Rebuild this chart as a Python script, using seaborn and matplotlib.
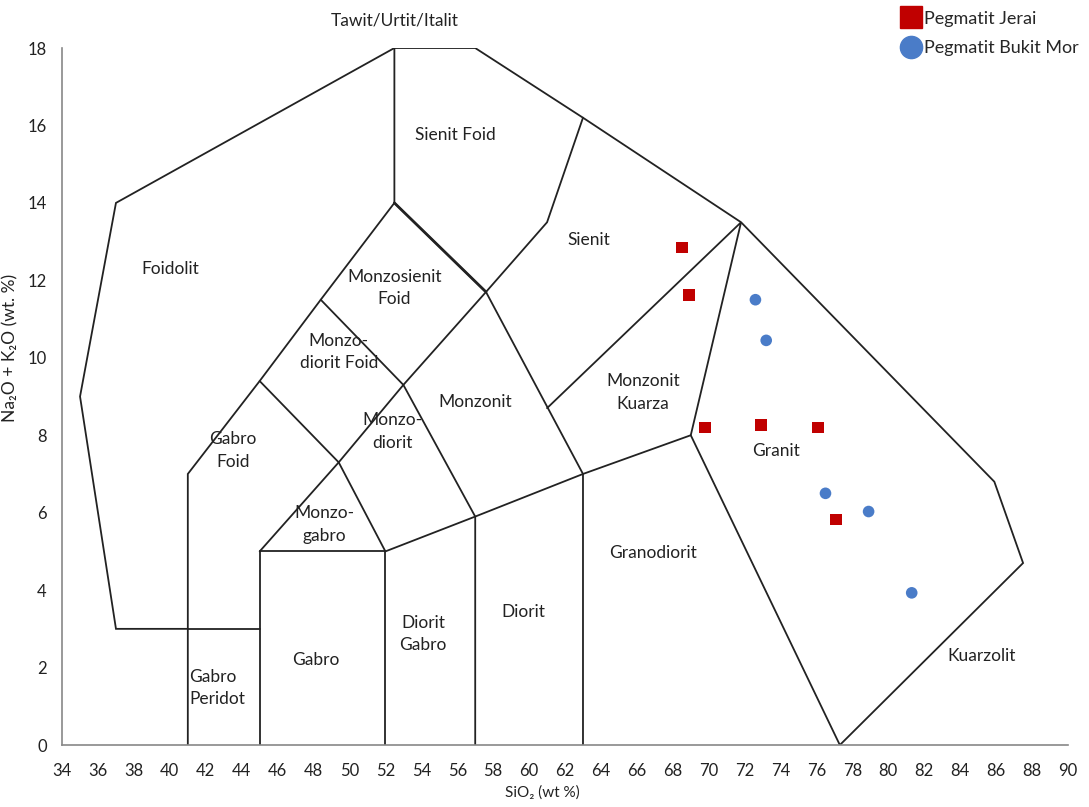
import numpy as np
import pandas as pd
import matplotlib
matplotlib.use('Agg')
import matplotlib.pyplot as plt
import seaborn as sns
from matplotlib.lines import Line2D

# data: sample points (SiO2, Na2O+K2O)
jerai_sio2 = [68.5, 68.9, 69.8, 72.9, 76.1, 77.1]
jerai_alk = [12.85, 11.62, 8.2, 8.26, 8.2, 5.82]
mor_sio2 = [72.6, 73.2, 76.5, 78.9, 81.3]
mor_alk = [11.5, 10.45, 6.5, 6.03, 3.93]

# field boundaries (Middlemost 1994, plutonic)
boundaries = [
    [(41, 3), (37, 3), (35, 9), (37, 14), (52.5, 18), (57, 18), (63, 16.2),
     (71.8, 13.5), (85.9, 6.8), (87.5, 4.7), (77.3, 0)],
    [(41, 0), (41, 7), (45, 9.4), (48.4, 11.5), (52.5, 14), (52.5, 18)],
    [(52.5, 14), (57.6, 11.7), (61, 13.5), (63, 16.2)],
    [(57.6, 11.7), (63, 7), (63, 0)],
    [(61, 8.7), (71.8, 13.5), (69, 8), (77.3, 0)],
    [(45, 0), (45, 5), (52, 5), (52, 0)],
    [(41, 3), (45, 3)],
    [(45, 5), (49.4, 7.3), (53, 9.3), (57.6, 11.7)],
    [(45, 9.4), (49.4, 7.3), (52, 5), (57, 5.9), (63, 7), (69, 8)],
    [(48.4, 11.5), (53, 9.3), (57, 5.9), (57, 0)],
]

labels = ['Foidolit', 'Sienit Foid', 'Sienit', 'Monzosienit\nFoid', 'Monzo-\ndiorit Foid',
          'Monzonit', 'Monzonit\nKuarza', 'Granit', 'Gabro\nFoid', 'Monzo-\ndiorit',
          'Monzo-\ngabro', 'Granodiorit', 'Diorit\nGabro', 'Diorit', 'Gabro', 'Kuarzolit']
label_x = [40.0, 55.9, 63.3, 52.5, 49.4, 57.0, 66.35, 73.75, 43.5, 52.4, 48.6, 66.9, 54.1, 59.7, 48.1, 85.2]
label_y = [12.3, 15.75, 13.05, 11.8, 10.15, 8.86, 9.1, 7.6, 7.6, 8.1, 5.7, 4.96, 2.87, 3.43, 2.2, 2.3]

df = pd.DataFrame({
    'sio2': jerai_sio2 + mor_sio2,
    'alk': jerai_alk + mor_alk,
    'grup': ['Pegmatit Jerai'] * len(jerai_sio2) + ['Pegmatit Bukit Mor'] * len(mor_sio2),
})

sns.set_style('white')
plt.rcParams['font.family'] = ['Lato', 'DejaVu Sans']

fig = plt.figure(figsize=(10.89, 8.07), dpi=100)
ax = fig.add_axes([0.057, 0.0768, 0.9237, 0.8637])

for seg in boundaries:
    xs = [p[0] for p in seg]
    ys = [p[1] for p in seg]
    ax.plot(xs, ys, color='#222222', lw=1.3, solid_joinstyle='miter', zorder=2)
# this one is drawn heavier in the original
ax.plot([52.5, 57.6], [14, 11.7], color='#222222', lw=2.0, zorder=2)

for t, x, y in zip(labels, label_x, label_y):
    ax.text(x, y, t, ha='center', va='center', fontsize=12.5, color='#222222',
            linespacing=1.5, zorder=3)
ax.text(41.1, 1.47, 'Gabro\nPeridot', ha='left', va='center', fontsize=12.5,
        color='#222222', linespacing=1.5)
ax.text(52.5, 18.72, 'Tawit/Urtit/Italit', ha='center', va='center', fontsize=12.5,
        color='#222222', clip_on=False)

sns.scatterplot(data=df, x='sio2', y='alk', hue='grup', style='grup',
                palette={'Pegmatit Jerai': '#C00000', 'Pegmatit Bukit Mor': '#4A7CC8'},
                markers={'Pegmatit Jerai': 's', 'Pegmatit Bukit Mor': 'o'},
                s=70, linewidth=0, ax=ax, zorder=4, legend=False)

ax.set_xlim(34, 90)
ax.set_ylim(0, 18)
ax.set_xticks(np.arange(34, 91, 2))
ax.set_yticks(np.arange(0, 19, 2))
ax.tick_params(axis='both', direction='out', length=5, width=1, color='#888888',
               labelsize=12, labelcolor='#222222', pad=6)
ax.tick_params(axis='x', pad=8)
for s in ['top', 'right']:
    ax.spines[s].set_visible(False)
for s in ['left', 'bottom']:
    ax.spines[s].set_color('#888888')
    ax.spines[s].set_linewidth(1.2)

ax.set_xlabel('SiO₂ (wt %)', fontsize=11, color='#222222')
ax.xaxis.set_label_coords(0.477, -0.058)
ax.set_ylabel('Na₂O + K₂O (wt. %)', fontsize=12.5, color='#222222')
ax.yaxis.set_label_coords(-0.043, 0.57)

handles = [Line2D([], [], marker='s', color='#C00000', ls='', markersize=16),
           Line2D([], [], marker='o', color='#4A7CC8', ls='', markersize=16)]
fig.legend(handles, ['Pegmatit Jerai', 'Pegmatit Bukit Mor'], loc='upper left',
           bbox_to_anchor=(0.813, 1.007), frameon=False, fontsize=13,
           handletextpad=0.25, labelspacing=0.75, handlelength=1.0)

fig.savefig('out.png', dpi=100)
